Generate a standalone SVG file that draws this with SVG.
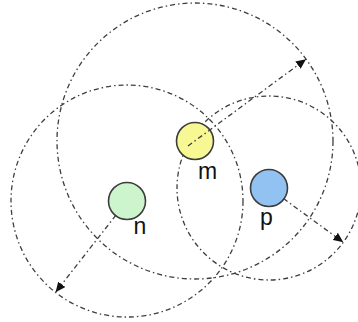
<svg xmlns="http://www.w3.org/2000/svg" width="358" height="322" viewBox="0 0 358 322">
<style>
.range{fill:none;stroke:#3e3e3e;stroke-width:1.3;stroke-dasharray:5 3 1.5 3}
.conn{fill:none;stroke:#3e3e3e;stroke-width:1.3;stroke-dasharray:5 3 1.5 3}
.node{stroke:#3c3c3c;stroke-width:1.6}
.lbl{font-family:"Liberation Sans",Arial,sans-serif;font-size:23px;fill:#111}
</style>
<defs>
<marker id="arr" markerUnits="userSpaceOnUse" markerWidth="11" markerHeight="9" refX="10" refY="4.5" orient="auto">
<path d="M0,0 L10,4.5 L0,9 z" fill="#111"/>
</marker>
</defs>
<rect width="358" height="322" fill="#fff"/>
<g id="ranges">
<circle class="range" cx="195" cy="141" r="138"/>
<circle class="range" cx="127" cy="201" r="116"/>
<circle class="range" cx="269" cy="188" r="92"/>
</g>
<g id="node-n">
<circle class="node" cx="127" cy="201" r="18.5" fill="#cdf5cd"/>
<text class="lbl" x="133.5" y="233.5">n</text>
</g>
<g id="node-m">
<circle class="node" cx="195" cy="141" r="18.5" fill="#f7f794"/>
<text class="lbl" x="198" y="179">m</text>
</g>
<g id="node-p">
<circle class="node" cx="269" cy="188" r="18.5" fill="#92c2f2"/>
<text class="lbl" x="260" y="225">p</text>
</g>
<g id="connectors">
<line class="conn" x1="188" y1="146" x2="306" y2="59.2" marker-end="url(#arr)"/>
<line class="conn" x1="115.9" y1="215.2" x2="55.6" y2="292.2" marker-end="url(#arr)"/>
<line class="conn" x1="283.5" y1="198.6" x2="343.3" y2="242.3" marker-end="url(#arr)"/>
</g>
</svg>
